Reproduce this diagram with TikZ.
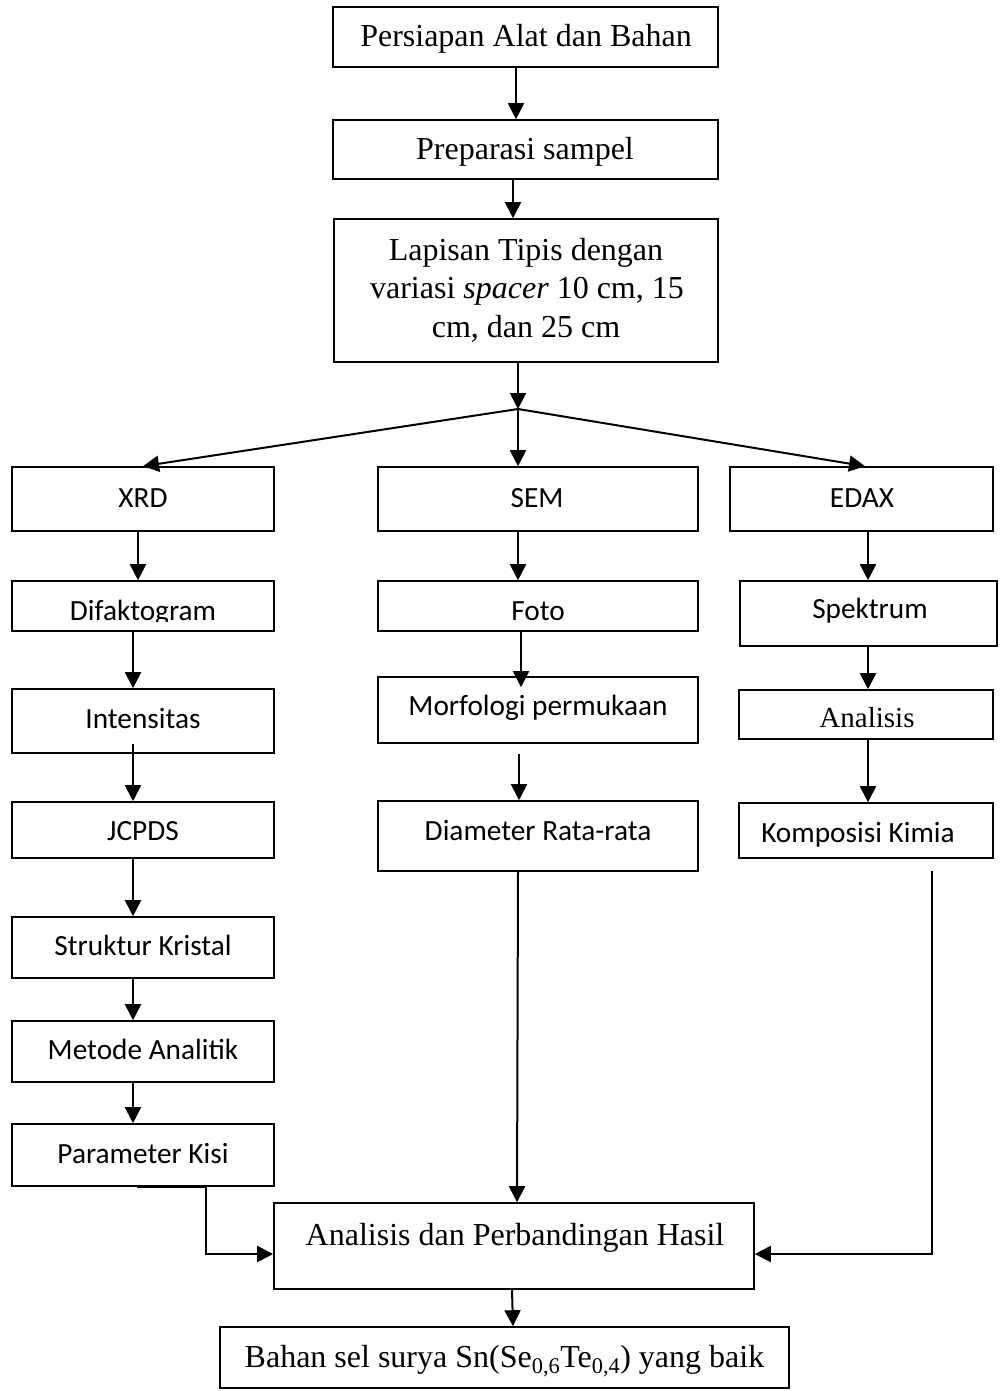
\documentclass[tikz,border=0pt]{standalone}
\usepackage{fontspec}
\setmainfont{Liberation Serif}
\newfontfamily\carlfont{Carlito}
\usetikzlibrary{arrows.meta,fit}
\tikzset{
  box/.style={draw, line width=1.6pt, inner sep=0pt},
  ser/.style={font=\fontsize{32}{38}\selectfont, anchor=base, inner sep=0pt},
  sers/.style={font=\fontsize{29}{34}\selectfont, anchor=base, inner sep=0pt},
  san/.style={font=\carlfont\fontsize{29.3}{34}\selectfont, anchor=base, inner sep=0pt},
  arr/.style={line width=2pt, -{Triangle[length=16pt,width=16pt]}},
  ln/.style={line width=2pt},
}
\begin{document}
\begin{tikzpicture}[x=1pt,y=-1pt]
\useasboundingbox (0,0) rectangle (999,1391);
% boxes
\node[box, fit={(333,7) (718,67)}] (top) {};
\node[box, fit={(333,120) (718,179)}] (prep) {};
\node[box, fit={(334,219) (718,362)}] (lap) {};
\node[box, fit={(12,467) (274,531)}] (xrd) {};
\node[box, fit={(378,467) (698,531)}] (sem) {};
\node[box, fit={(730,467) (993,531)}] (edax) {};
\node[box, fit={(12,581) (274,631)}] (difak) {};
\node[box, fit={(378,581) (698,631)}] (foto) {};
\node[box, fit={(740,581) (997,646)}] (spek) {};
\node[box, fit={(12,689) (274,753)}] (inten) {};
\node[box, fit={(378,677) (698,743)}] (morf) {};
\node[box, fit={(739,690) (993,739)}] (anal) {};
\node[box, fit={(12,802) (274,858)}] (jcpds) {};
\node[box, fit={(378,801) (698,871)}] (diam) {};
\node[box, fit={(739,803) (993,858)}] (komp) {};
\node[box, fit={(12,917) (274,978)}] (struk) {};
\node[box, fit={(12,1021) (274,1082)}] (metode) {};
\node[box, fit={(12,1124) (274,1186)}] (param) {};
\node[box, fit={(274,1203) (754,1289)}] (hasil) {};
\node[box, fit={(220,1327) (789,1388)}] (bahan) {};
% texts
\node[ser] (topt) at (526,47) {Persiapan Alat dan Bahan};
\node[ser] (prept) at (525,160) {Preparasi sampel};
\node[ser] (lapa) at (526,260) {Lapisan Tipis dengan};
\node[ser] (lapb) at (527,298) {variasi \textit{spacer} 10 cm, 15};
\node[ser] (lapc) at (526,337) {cm, dan 25 cm};
\node[san] (xrdt) at (143,507) {XRD};
\node[san] (semt) at (537,507) {SEM};
\node[san] (edaxt) at (862,507) {EDAX};
\begin{scope}
\clip (12,581) rectangle (274,621);
\node[san] (difakt) at (143,620) {Difaktogram};
\end{scope}
\node[san] (fotot) at (538,620) {Foto};
\node[san] (spekt) at (870,618) {Spektrum};
\node[san] (intent) at (143,728) {Intensitas};
\node[san] (morft) at (538,715) {Morfologi permukaan};
\node[sers] (analt) at (867,727) {Analisis};
\node[san] (jcpdst) at (143,840) {JCPDS};
\node[san] (diamt) at (538,840) {Diameter Rata-rata};
\node[san] (kompt) at (858,842) {Komposisi Kimia};
\node[san] (strukt) at (143,955) {Struktur Kristal};
\node[san] (metodet) at (143,1059) {Metode Analitik};
\node[san] (paramt) at (143,1163) {Parameter Kisi};
\node[ser] (hasilt) at (515,1245) {Analisis dan Perbandingan Hasil};
\node[ser] (bahant) at (504.5,1367) {Bahan sel surya Sn(Se\textsubscript{0,6}Te\textsubscript{0,4}) yang baik};
% connectors
\coordinate (br) at (518,409);
\draw[arr] ([xshift=-9.5pt]top.south) -- ([xshift=-9.5pt]prep.north);
\draw[arr] ([xshift=-12.5pt]prep.south) -- ([xshift=-13pt]lap.north);
\draw[arr] ([xshift=-8pt]lap.south) -- (br);
\draw[arr] (br) -- (xrd.north);
\draw[arr] (br) -- ([xshift=-20pt]sem.north);
\draw[arr] (br) -- ([xshift=3.5pt]edax.north);
% XRD column
\draw[arr] ([xshift=-5pt]xrd.south) -- ([xshift=-5pt]difak.north);
\draw[arr] ([xshift=-10pt]difak.south) -- ([xshift=-10pt]inten.north);
\draw[arr] ([xshift=-10pt,yshift=10pt]inten.south) -- ([xshift=-10pt]jcpds.north);
\draw[arr] ([xshift=-10pt]jcpds.south) -- ([xshift=-10pt]struk.north);
\draw[arr] ([xshift=-10pt]struk.south) -- ([xshift=-10pt]metode.north);
\draw[arr] ([xshift=-10pt]metode.south) -- ([xshift=-10pt]param.north);
\draw[arr] ([xshift=-6pt]param.south) -- ([xshift=63pt]param.south) |- ([yshift=-8pt]hasil.west);
% SEM column
\draw[arr] ([xshift=-20pt]sem.south) -- ([xshift=-20pt]foto.north);
\draw[arr] ([xshift=-17pt]foto.south) -- ([xshift=-17pt,yshift=-11pt]morf.north);
\draw[arr] ([xshift=-19pt,yshift=-10pt]morf.south) -- ([xshift=-19pt]diam.north);
\draw[arr] ([xshift=-20pt]diam.south) -- ([xshift=3pt]hasil.north);
% EDAX column
\draw[arr] ([xshift=6.5pt]edax.south) -- ([xshift=-0.5pt]spek.north);
\draw[arr] ([xshift=-0.5pt]spek.south) -- ([xshift=2pt]anal.north);
\draw[arr] ([xshift=2pt]anal.south) -- ([xshift=2pt]komp.north);
\draw[arr] ([xshift=66pt,yshift=-12pt]komp.south) |- ([yshift=-8pt]hasil.east);
% final
\draw[arr] ([xshift=-2pt]hasil.south) -- ([xshift=8.5pt]bahan.north);
\end{tikzpicture}
\end{document}
